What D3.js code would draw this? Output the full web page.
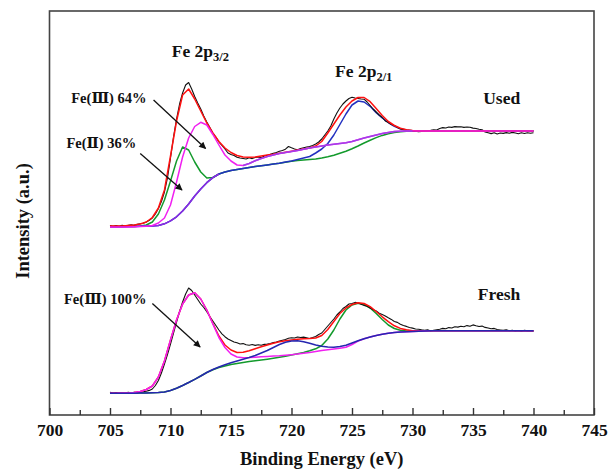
<!DOCTYPE html>
<html>
<head>
<meta charset="utf-8">
<script src="https://cdn.jsdelivr.net/npm/d3@7"></script>
<style>
  body { margin: 0; background: #fff; }
  svg text { font-family: 'Liberation Serif', 'Times New Roman', 'DejaVu Serif', serif; font-weight: bold; fill: #111; }
</style>
</head>
<body>
<svg id="chart"></svg>
<script>
// Energy grids (eV): measured spectra are sampled finer than the fitted curves
const rawEnergy = d3.range(705, 740.001, 0.25);
const fitEnergy = d3.range(705, 740.001, 0.5);
const bgEnergy = d3.range(705, 714.001, 0.5);
const tailEnergy = d3.range(716, 730.001, 0.5);

// Used sample
const usedRaw = [
  189.5, 188.6, 189.4, 188.8, 189.7, 189.0, 189.6, 190.2, 189.8, 190.6, 191.2, 191.8,
  193.0, 194.8, 197.0, 201.0, 206.5, 213.5, 223.0, 237.0, 257.0, 278.0, 296.0, 311.0,
  322.0, 330.0, 332.5, 326.0, 318.5, 312.0, 306.0, 299.0, 293.0, 287.5, 282.0, 278.0,
  273.0, 269.5, 266.0, 262.0, 260.5, 259.5, 257.8, 257.0, 256.5, 256.0, 257.2, 256.4,
  257.5, 258.0, 257.3, 259.0, 259.6, 260.8, 261.8, 262.5, 263.7, 264.5, 265.8, 268.5,
  267.2, 266.0, 265.2, 266.5, 267.3, 268.0, 268.5, 269.5, 271.0, 273.0, 276.0, 280.0,
  284.0, 289.0, 296.0, 302.0, 307.0, 311.0, 314.0, 316.5, 317.8, 317.0, 316.5, 316.0,
  315.8, 313.0, 309.5, 306.0, 303.0, 300.0, 297.5, 294.0, 292.5, 290.5, 289.5, 287.5,
  286.0, 285.2, 284.8, 284.0, 283.5, 283.8, 283.2, 283.6, 284.1, 284.4, 284.7, 285.2,
  285.0, 286.5, 287.4, 287.0, 288.0, 287.6, 288.4, 288.1, 288.3, 287.6, 288.0, 287.7,
  286.9, 286.5, 285.8, 285.2, 283.0, 282.3, 281.4, 282.2, 281.0, 282.0, 281.6, 282.4,
  281.8, 282.6, 282.0, 281.3, 282.2, 281.5, 282.3, 281.7, 282.2,
];
const usedEnvelope = [
  189, 189, 189, 189.5, 190, 191, 193, 197.5, 207, 225,
  259, 294, 320, 326, 316, 304, 292, 282, 273.5, 267,
  262.5, 259.5, 258, 257.7, 258, 259, 260, 260.7, 261.7, 262.7,
  263.8, 265, 266, 267, 269, 273.5, 282, 291, 300, 308,
  314, 317.5, 317.5, 313.3, 306.5, 299.5, 293.5, 289.5, 286.7, 285.2,
  284.4, 284, 284, 284, 284, 284, 284, 284, 284, 284, 284,
  284, 284, 284, 284, 284, 284, 284, 284, 284, 284,
];
const usedFe3 = [
  188, 188, 188, 188, 188.2, 188.4, 188.7, 189.5, 192, 197,
  210, 233, 258, 277, 288.5, 292.7, 290, 280.5, 270, 260,
  254, 250, 249.5, 251.5, 254.2, 256.5, 258.4, 260, 261.4, 262.5,
  263.6, 264.6, 265.7, 267, 268, 269, 270, 270.8, 271.6, 272.3,
  273.6, 275.2, 277, 278.5, 280, 281.4, 282.5, 283.4, 283.8, 284,
  284, 284, 284, 284, 284, 284, 284, 284, 284, 284, 284,
  284, 284, 284, 284, 284, 284, 284, 284, 284, 284,
];
// Upper (violet) background under the Fe(III) tail, 716-730 eV
const usedUpperBg = [
  249.5, 251.5, 254.2, 256.5, 258.4, 260, 261.4, 262.5, 263.6, 264.6,
  265.7, 267, 268, 269, 270, 270.8, 271.6, 272.3, 273.6, 275.2,
  277, 278.5, 280, 281.4, 282.5, 283.4, 283.8, 284, 284,
];
const usedFe2 = [
  188.3, 188.3, 188.3, 188.4, 188.6, 189, 190, 193, 201, 215,
  234, 254, 268, 265, 253, 243, 237, 237.5, 241, 243,
  244.4, 245.5, 246.5, 247.6, 248.4, 249.2, 250, 250.9, 251.7, 252.7,
  253.7, 254.6, 255, 255.5, 256, 257, 258.2, 259.7, 261.7, 263.8,
  266.2, 269, 272, 274.7, 277.4, 279.6, 281.2, 282.4, 283.2, 283.7,
  284, 284, 284, 284, 284, 284, 284, 284, 284, 284, 284,
  284, 284, 284, 284, 284, 284, 284, 284, 284, 284,
];
const usedP12 = [
  188.3, 188.3, 188.3, 188.4, 188.5, 188.7, 188.9, 189.1, 189.5, 191.2,
  194.2, 198.2, 204, 211, 219, 226, 232.3, 237.3, 241, 243,
  244.4, 245.5, 246.5, 247.6, 248.4, 249.2, 250, 250.9, 251.7, 253,
  254, 255.5, 257, 258.5, 262, 266, 271.5, 280, 290.5, 301,
  310, 314, 313, 308.7, 302.3, 297, 292.5, 288.7, 286.2, 285,
  284.3, 284, 284, 284, 284, 284, 284, 284, 284, 284, 284,
  284, 284, 284, 284, 284, 284, 284, 284, 284, 284,
];
const usedBackground = [
  188.3, 188.3, 188.3, 188.4, 188.5, 188.7, 188.9, 189.1, 189.5, 191.2,
  194.2, 198.2, 204, 211, 219, 226, 232.3, 237.3, 241,
];

// Fresh sample
const freshRaw = [
  22.6, 21.9, 22.5, 21.8, 22.4, 22.0, 22.6, 22.1, 22.7, 22.3, 22.9, 23.2,
  23.8, 24.6, 26.0, 29.5, 34.5, 42.0, 51.0, 60.5, 71.0, 82.0, 93.0, 103.5,
  113.0, 121.0, 127.0, 124.5, 120.0, 115.5, 111.0, 107.5, 103.3, 98.5, 94.0, 89.5,
  85.0, 81.2, 78.3, 76.0, 74.5, 73.0, 72.2, 71.0, 71.4, 70.2, 69.8, 70.5,
  69.6, 70.3, 69.8, 70.6, 70.9, 71.5, 72.4, 72.9, 74.0, 74.8, 75.5, 76.8,
  77.3, 77.0, 78.0, 77.5, 77.9, 77.2, 76.5, 77.4, 78.5, 80.5, 82.0, 85.5,
  89.0, 92.5, 96.0, 100.0, 103.0, 106.5, 108.5, 111.0, 111.5, 112.6, 112.0, 110.8,
  109.6, 108.8, 107.0, 105.2, 104.0, 101.8, 100.5, 99.0, 97.2, 95.6, 93.5, 92.6,
  90.8, 89.5, 88.6, 87.5, 86.9, 86.0, 85.8, 85.2, 84.8, 85.2, 84.0, 84.6,
  85.2, 85.8, 86.6, 86.2, 87.4, 87.0, 88.2, 87.9, 88.7, 88.3, 89.4, 88.8,
  90.1, 89.2, 88.5, 88.9, 87.6, 87.0, 86.2, 86.6, 85.4, 85.0, 84.6, 85.1,
  84.2, 84.8, 84.0, 84.5, 83.8, 84.6, 84.1, 84.4, 83.9,
];
const freshEnvelope = [
  21.7, 21.8, 21.9, 22.1, 22.5, 23.5, 25.5, 29, 38, 54,
  75, 95, 111, 120, 122.2, 116, 105, 91.5, 79, 70,
  65, 62.5, 62.7, 64.2, 66.3, 68.2, 70, 71.7, 73.2, 74.2,
  75, 75.7, 76.2, 76.5, 77, 79.5, 85.5, 93.5, 101.5, 107,
  110.5, 112.2, 111.5, 108.3, 103.5, 98.2, 93.3, 89.2, 86.6, 85.2,
  84.3, 84.2, 84.2, 84.2, 84.2, 84.2, 84.2, 84.2, 84.2, 84.2, 84.2,
  84.2, 84.2, 84.2, 84.2, 84.2, 84.2, 84.2, 84.2, 84.2, 84.2,
];
const freshFe3 = [
  21.7, 21.8, 21.9, 22.1, 22.5, 23.5, 25.5, 29, 38, 54,
  75, 95, 111, 120, 122.2, 116, 105, 91, 77.5, 67.5,
  61, 58, 57.2, 57.4, 57.8, 58.2, 58.6, 58.9, 59.2, 59.7,
  60.3, 61, 61.7, 62.5, 63.5, 64.4, 65.2, 66, 66.8, 67.7,
  70.5, 74, 76.3, 78, 79.5, 80.7, 81.8, 82.5, 83, 83.3,
  83.6, 83.8, 84, 84.2, 84.2, 84.2, 84.2, 84.2, 84.2, 84.2, 84.2,
  84.2, 84.2, 84.2, 84.2, 84.2, 84.2, 84.2, 84.2, 84.2, 84.2,
];
const freshP12 = [
  21.7, 21.7, 21.7, 21.7, 21.8, 21.9, 22, 22.2, 22.5, 23,
  24.5, 26.7, 29.5, 32.5, 35.7, 39, 42.5, 45.2, 47.5, 49,
  50.5, 51.5, 52.5, 53.5, 54.3, 55, 55.8, 56.7, 57.7, 58.8,
  60, 61.2, 62.5, 64.2, 66.2, 69.5, 76, 85, 96, 105,
  110, 111.7, 110.5, 107, 101.5, 95.5, 90, 86.5, 84.7, 84,
  84.1, 84.2, 84.2, 84.2, 84.2, 84.2, 84.2, 84.2, 84.2, 84.2, 84.2,
  84.2, 84.2, 84.2, 84.2, 84.2, 84.2, 84.2, 84.2, 84.2, 84.2,
];
const freshBackground = [
  21.7, 21.7, 21.7, 21.7, 21.8, 21.9, 22, 22.2, 22.5, 23,
  24.5, 26.7, 29.5, 32.5, 35.7, 39, 42.5, 45.5, 48, 50.2,
  52.2, 54, 55.7, 57.5, 59.5, 62, 64.5, 67.5, 70.5, 72.7,
  74, 74.2, 73.2, 71.7, 70, 68.7, 68, 67.8, 68.5, 69.8,
  72, 74.3, 76.3, 78, 79.5, 80.7, 81.8, 82.5, 83, 83.3,
  83.6, 83.8, 84, 84.2, 84.2, 84.2, 84.2, 84.2, 84.2, 84.2, 84.2,
  84.2, 84.2, 84.2, 84.2, 84.2, 84.2, 84.2, 84.2, 84.2, 84.2,
];

// Tick values on the binding energy axis
const majorTicks = d3.range(700, 745.001, 5);
const minorTicks = d3.range(702.5, 745, 5);

// Text labels and arrows, placed in data units [energy, intensity]
const peakLabels = [
  { text: 'Fe 2p', sub: '3/2', at: [710.1, 358] },
  { text: 'Fe 2p', sub: '2/1', at: [723.6, 338] },
];
const sampleLabels = [
  { text: 'Used', at: [738.9, 311] },
  { text: 'Fresh', at: [738.9, 115] },
];
const speciesLabels = [
  { text: 'Fe(Ⅲ) 64%', at: [701.8, 312], from: [708.6, 315], to: [712.9, 266.5] },
  { text: 'Fe(Ⅱ) 36%', at: [701.4, 267], from: [707.5, 261.5], to: [710.95, 225] },
  { text: 'Fe(Ⅲ) 100%', at: [701.2, 111], from: [708.5, 111.5], to: [712.45, 68] },
];

const serifFont = "'Liberation Serif', 'Times New Roman', 'DejaVu Serif', serif";

// eslint-disable-next-line no-unused-vars
class XpsSpectraChart {
  constructor(_config) {
    this.config = {
      parentElement: _config.parentElement,
      containerWidth: 615,
      containerHeight: 470,
      margin: {
        top: 11,
        right: 21,
        bottom: 55,
        left: 49.5,
      },
    };
    this.initVis();
  }

  initVis() {
    const vis = this;

    vis.width = vis.config.containerWidth - vis.config.margin.left - vis.config.margin.right;
    vis.height = vis.config.containerHeight - vis.config.margin.top - vis.config.margin.bottom;

    vis.xScale = d3.scaleLinear()
      .domain([700, 745])
      .range([0, vis.width]);

    vis.yScale = d3.scaleLinear()
      .domain([0, 404])
      .range([vis.height, 0]);

    vis.svg = d3.select(vis.config.parentElement)
      .attr('width', vis.config.containerWidth)
      .attr('height', vis.config.containerHeight)
      .attr('font-family', serifFont);

    vis.svg.append('defs').append('marker')
      .attr('id', 'arrow-head')
      .attr('viewBox', '0 0 10 10')
      .attr('refX', 9)
      .attr('refY', 5)
      .attr('markerWidth', 10)
      .attr('markerHeight', 7)
      .attr('markerUnits', 'userSpaceOnUse')
      .attr('orient', 'auto')
      .append('path')
      .attr('d', 'M0,0L10,5L0,10Z')
      .attr('fill', '#111');

    vis.chart = vis.svg.append('g')
      .attr('transform', `translate(${vis.config.margin.left},${vis.config.margin.top})`);

    vis.line = d3.line()
      .x((d) => vis.xScale(d[0]))
      .y((d) => vis.yScale(d[1]));

    // Order matters: later series sit on top
    vis.series = [
      { energy: fitEnergy, values: usedFe2, color: '#139a2c' },
      { energy: fitEnergy, values: usedP12, color: '#2230c0' },
      { energy: bgEnergy, values: usedBackground, color: '#8a2be2' },
      { energy: rawEnergy, values: usedRaw, color: '#111111', width: 1.1 },
      { energy: fitEnergy, values: usedEnvelope, color: '#ff1010' },
      { energy: fitEnergy, values: usedFe3, color: '#f020f0' },
      { energy: tailEnergy, values: usedUpperBg, color: '#a23ee8' },
      { energy: fitEnergy, values: freshP12, color: '#139a2c' },
      { energy: rawEnergy, values: freshRaw, color: '#111111', width: 1.1 },
      { energy: fitEnergy, values: freshEnvelope, color: '#ff1010' },
      { energy: fitEnergy, values: freshFe3, color: '#f020f0' },
      { energy: fitEnergy, values: freshBackground, color: '#2626b0' },
    ];

    vis.renderVis();
  }

  renderVis() {
    const vis = this;

    // Spectra and fitted components
    vis.chart.append('g')
      .selectAll('.spectrum')
      .data(vis.series)
      .join('path')
      .attr('class', 'spectrum')
      .attr('fill', 'none')
      .attr('stroke', (d) => d.color)
      .attr('stroke-width', (d) => d.width || 1.5)
      .attr('stroke-linejoin', 'round')
      .attr('d', (d) => vis.line(d.values.map((v, i) => [d.energy[i], v])));

    // Frame
    vis.chart.append('rect')
      .attr('width', vis.width)
      .attr('height', vis.height)
      .attr('fill', 'none')
      .attr('stroke', '#444')
      .attr('stroke-width', 1.6);

    // Bottom axis, ticks pointing inward
    const xAxis = d3.axisBottom(vis.xScale)
      .tickValues(majorTicks)
      .tickSize(-7)
      .tickPadding(9)
      .tickFormat(d3.format('d'));

    const xAxisG = vis.chart.append('g')
      .attr('class', 'axis x-axis')
      .attr('transform', `translate(0,${vis.height})`)
      .call(xAxis)
      .attr('font-family', serifFont)
      .attr('font-size', 17.5);
    xAxisG.select('.domain').remove();
    xAxisG.selectAll('.tick line').attr('stroke', '#333').attr('stroke-width', 1.4);
    xAxisG.selectAll('.tick text')
      .attr('font-weight', 'bold')
      .attr('fill', '#111');

    const minorAxisG = vis.chart.append('g')
      .attr('transform', `translate(0,${vis.height})`)
      .call(d3.axisBottom(vis.xScale).tickValues(minorTicks).tickSize(-5).tickFormat(''));
    minorAxisG.select('.domain').remove();
    minorAxisG.selectAll('.tick line').attr('stroke', '#333').attr('stroke-width', 1.4);

    // Axis titles
    vis.chart.append('text')
      .attr('x', vis.width / 2)
      .attr('y', vis.height + 50)
      .attr('text-anchor', 'middle')
      .attr('font-size', 18.5)
      .text('Binding Energy (eV)');

    vis.chart.append('text')
      .attr('transform', `translate(${-21},${210}) rotate(-90)`)
      .attr('text-anchor', 'middle')
      .attr('font-size', 18.5)
      .text('Intensity (a.u.)');

    // Peak labels with subscripts
    const peakText = vis.chart.append('g')
      .selectAll('text')
      .data(peakLabels)
      .join('text')
      .attr('x', (d) => vis.xScale(d.at[0]))
      .attr('y', (d) => vis.yScale(d.at[1]))
      .attr('font-size', 17.5);
    peakText.append('tspan').text((d) => d.text);
    peakText.append('tspan')
      .attr('dy', 4)
      .attr('font-size', 12.5)
      .text((d) => d.sub);

    vis.chart.append('g')
      .selectAll('text')
      .data(sampleLabels)
      .join('text')
      .attr('x', (d) => vis.xScale(d.at[0]))
      .attr('y', (d) => vis.yScale(d.at[1]))
      .attr('text-anchor', 'end')
      .attr('font-size', 17.5)
      .text((d) => d.text);

    // Component labels and their arrows
    vis.chart.append('g')
      .selectAll('text')
      .data(speciesLabels)
      .join('text')
      .attr('x', (d) => vis.xScale(d.at[0]))
      .attr('y', (d) => vis.yScale(d.at[1]))
      .attr('font-size', 14.5)
      .text((d) => d.text);

    vis.chart.append('g')
      .selectAll('line')
      .data(speciesLabels)
      .join('line')
      .attr('x1', (d) => vis.xScale(d.from[0]))
      .attr('y1', (d) => vis.yScale(d.from[1]))
      .attr('x2', (d) => vis.xScale(d.to[0]))
      .attr('y2', (d) => vis.yScale(d.to[1]))
      .attr('stroke', '#111')
      .attr('stroke-width', 1.3)
      .attr('marker-end', 'url(#arrow-head)');
  }
}

// eslint-disable-next-line no-new
new XpsSpectraChart({ parentElement: '#chart' });
</script>
</body>
</html>
